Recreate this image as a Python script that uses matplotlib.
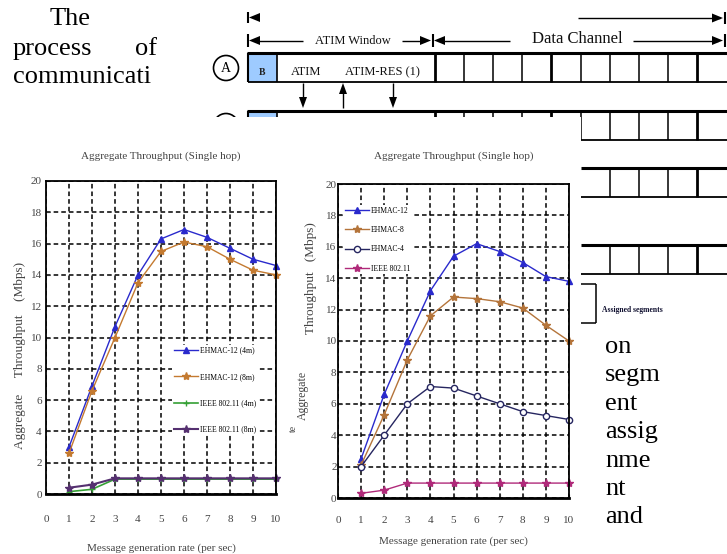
import matplotlib
matplotlib.use("Agg")
import matplotlib.pyplot as plt
from matplotlib.patches import Rectangle, Circle, Polygon

W, H = 727, 554

# chart data
rate = [1, 2, 3, 4, 5, 6, 7, 8, 9, 10]

# left plot: single hop, 4m / 8m
ehmac12_4m = [3.0, 6.9, 10.7, 14.0, 16.3, 16.9, 16.4, 15.7, 15.0, 14.6]
ehmac12_8m = [2.6, 6.6, 10.0, 13.5, 15.5, 16.1, 15.8, 15.0, 14.3, 14.0]
ieee_4m = [0.15, 0.3, 0.95, 0.95, 0.95, 0.95, 0.95, 0.95, 0.95, 0.95]
ieee_8m = [0.4, 0.6, 1.0, 1.0, 1.0, 1.0, 1.0, 1.0, 1.0, 1.0]
left_labels = ["EHMAC-12 (4m)", "EHMAC-12 (8m)", "IEEE 802.11 (4m)", "IEEE 802.11 (8m)"]

# right plot: channel count
ehmac12 = [2.5, 6.6, 10.0, 13.2, 15.4, 16.2, 15.7, 15.0, 14.1, 13.8]
ehmac8 = [2.1, 5.3, 8.8, 11.6, 12.8, 12.7, 12.5, 12.1, 11.0, 10.0]
ehmac4 = [2.0, 4.0, 6.0, 7.1, 7.0, 6.5, 6.0, 5.5, 5.25, 5.0]
ieee = [0.3, 0.5, 0.95, 0.95, 0.95, 0.95, 0.95, 0.95, 0.95, 0.95]
right_labels = ["EHMAC-12", "EHMAC-8", "EHMAC-4", "IEEE 802.11"]

yticks = [0, 2, 4, 6, 8, 10, 12, 14, 16, 18, 20]
xticks = [0, 1, 2, 3, 4, 5, 6, 7, 8, 9, 10]

title = "Aggregate Throughput (Single hop)"
xlab = "Message generation rate (per sec)"

serif = "Liberation Serif"
plt.rcParams['font.family'] = serif

fig = plt.figure(figsize=(W / 100, H / 100), dpi=100)

# background page in pixel coordinates
bg = fig.add_axes([0, 0, 1, 1])
bg.set_xlim(0, W)
bg.set_ylim(H, 0)
bg.axis("off")

# paragraph fragments
txt = dict(fontsize=19, family=serif, va="baseline", color="black")
bg.text(50, 25, "The", **txt)
bg.text(13, 55, "process", **txt)
bg.text(135, 55, "of", **txt)
bg.text(13, 83, "communicati", **txt)
for i, w in enumerate(["on", "segm", "ent", "assig", "nme", "nt", "and"]):
    bg.text(605, 353 + 28.4 * i, w, **txt)

def hline(x0, x1, y, lw=1.0):
    bg.plot([x0, x1], [y, y], color="black", lw=lw, solid_capstyle="butt")

def vline(x, y0, y1, lw=1.0):
    bg.plot([x, x], [y0, y1], color="black", lw=lw, solid_capstyle="butt")

def head(x, y, direction):
    # small filled arrow head, direction +1 right / -1 left
    L, h = 11, 4.5
    bg.add_patch(Polygon([(x, y), (x - direction * L, y - h), (x - direction * L, y + h)],
                         closed=True, color="black", lw=0))

# top timing row
vline(248, 12, 23, 1.5)
head(249, 17.5, -1)
hline(578, 720, 18)
head(723, 18, 1)
vline(725, 12, 24, 1.5)

# ATIM window / data channel row
vline(248, 34, 47, 1.5)
head(249, 40.5, -1)
hline(255, 303, 40.5)
bg.text(353, 41, "ATIM Window", fontsize=9, ha="center", va="center", color="#111")
hline(402, 425, 40.5)
head(431, 40.5, 1)
vline(433, 34, 47, 1.5)
head(434, 40.5, -1)
hline(440, 510, 40.5)
bg.text(577, 39, "Data Channel", fontsize=12, ha="center", va="center", color="#111")
hline(633, 718, 40.5)
head(723, 40.5, 1)
vline(725, 34, 47, 1.5)

cells = [435 + 29.1 * k for k in range(10)]

# row A
bg.add_patch(Rectangle((248, 53), 29, 29, facecolor="#9ecbff", edgecolor="none"))
hline(247, W, 53, 2.2)
hline(248, W, 82, 1.3)
vline(248, 53, 82, 1.5)
vline(277, 53, 82, 1.2)
for k, cx in enumerate(cells):
    vline(cx, 53, 82, 2.0 if k in (0, 4, 9) else 1.1)
bg.text(262, 75, "B", fontsize=7, ha="center", va="baseline", fontweight="bold", color="#222")
bg.text(306, 75, "ATIM", fontsize=9, ha="center", va="baseline", color="#111")
bg.text(382, 75, "ATIM-RES (1)", fontsize=9, ha="center", va="baseline", color="#111")
bg.add_patch(Circle((226, 68), 12.5, fill=False, lw=1.2, color="black"))
bg.text(226, 69, "A", fontsize=10, ha="center", va="center")

# messages between A and B
for ax_, up in [(303, False), (343, True), (393, False)]:
    if up:
        vline(ax_, 108, 92)
        bg.add_patch(Polygon([(ax_, 83), (ax_ - 4, 94), (ax_ + 4, 94)], color="black", lw=0))
    else:
        vline(ax_, 83, 100)
        bg.add_patch(Polygon([(ax_, 108), (ax_ - 4, 97), (ax_ + 4, 97)], color="black", lw=0))

# row B
bg.add_patch(Rectangle((248, 111), 29, 29, facecolor="#9ecbff", edgecolor="none"))
hline(247, W, 111, 2.2)
hline(248, W, 140, 1.3)
vline(248, 111, 140, 1.5)
vline(277, 111, 140, 1.2)
for k, cx in enumerate(cells):
    vline(cx, 111, 140, 2.0 if k in (0, 4, 9) else 1.1)
bg.add_patch(Circle((226, 126), 12.5, fill=False, lw=1.2, color="black"))

# rows peeking out to the right of the pasted charts
for top in (168, 245):
    hline(581, W, top, 2.2)
    hline(581, W, top + 29, 1.3)
    for k, cx in enumerate(cells):
        if cx > 600:
            vline(cx, top, top + 29, 2.0 if k == 9 else 1.1)

# assigned segments bracket
hline(581, 596, 284, 1.1)
hline(581, 596, 323, 1.1)
vline(596, 284, 323, 1.1)
bg.text(602, 310, "Assigned segments", fontsize=5.5, va="center", fontweight="bold", color="#101030")

# white pasted area of the charts
bg.add_patch(Rectangle((0, 117), 581, H - 117, facecolor="white", edgecolor="none", zorder=5))


def make_axes(x0, x1, ytop, ybot):
    return fig.add_axes([x0 / W, 1 - ybot / H, (x1 - x0) / W, (ybot - ytop) / H])


def style(ax, xpad, ypad):
    ax.set_xlim(0, 10)
    ax.set_ylim(0, 20)
    ax.set_xticks(xticks)
    ax.set_yticks(yticks)
    ax.grid(True, color="black", ls=(0, (3, 2)), lw=1.1)
    ax.tick_params(direction="in", length=3, labelsize=8, colors="#333",
                   labelcolor="#444")
    ax.tick_params(axis="x", pad=xpad)
    ax.tick_params(axis="y", pad=ypad)
    for s in ax.spines.values():
        s.set_linewidth(1.3)
    ax.spines["bottom"].set_linewidth(2.0)


# left chart
ax1 = make_axes(46, 276, 181, 494)
ax1.plot(rate, ehmac12_4m, color="#2a2acc", marker="^", ms=5, lw=1, clip_on=False)
ax1.plot(rate, ehmac12_8m, color="#c47a30", marker="*", ms=6, lw=1, clip_on=False)
ax1.plot(rate, ieee_4m, color="#35a035", marker="+", ms=5, lw=1.2, clip_on=False)
ax1.plot(rate, ieee_8m, color="#553070", marker="*", ms=6, lw=1.5, clip_on=False)
style(ax1, 15, 3)
ax1.set_title(title, fontsize=8, color="#444", pad=16)
ax1.set_xlabel(xlab, fontsize=8, color="#444", labelpad=14)
fig.text(20 / W, 1 - 355 / H, "Aggregate     Throughput    (Mbps)", rotation=90,
         fontsize=9.5, color="#444", ha="center", va="center")
ax1.legend(left_labels, loc="upper left", bbox_to_anchor=(172 / W, 1 - 345 / H),
           bbox_transform=fig.transFigure, fontsize=5.5, frameon=True,
           facecolor="white", edgecolor="none", framealpha=1, handlelength=3.2,
           labelspacing=2.4, borderpad=0.2, handletextpad=0.3, borderaxespad=0)

# right chart
ax2 = make_axes(338, 569, 184, 498)
ax2.plot(rate, ehmac12, color="#2a2acc", marker="^", ms=5, lw=1, clip_on=False)
ax2.plot(rate, ehmac8, color="#b4743a", marker="*", ms=6, lw=1, clip_on=False)
ax2.plot(rate, ehmac4, color="#262660", marker="o", ms=4.5, mfc="white", lw=1, clip_on=False)
ax2.plot(rate, ieee, color="#b02a7a", marker="*", ms=6, lw=1, clip_on=False)
style(ax2, 13, 1)
ax2.set_title(title, fontsize=8, color="#444", pad=18)
ax2.set_xlabel(xlab, fontsize=8, color="#444", labelpad=8)
fig.text(311 / W, 1 - 278 / H, "Throughput   (Mbps)", rotation=90,
         fontsize=9.5, color="#444", ha="center", va="center")
fig.text(303 / W, 1 - 395 / H, "Aggregate", rotation=90,
         fontsize=8.5, color="#444", ha="center", va="center")
fig.text(293 / W, 1 - 428 / H, "te", rotation=90,
         fontsize=7, color="#444", ha="center", va="center")
ax2.legend(right_labels, loc="upper left", bbox_to_anchor=(343 / W, 1 - 205 / H),
           bbox_transform=fig.transFigure, fontsize=5.5, frameon=True,
           facecolor="white", edgecolor="none", framealpha=1, handlelength=3.2,
           labelspacing=1.5, borderpad=0.2, handletextpad=0.3, borderaxespad=0)

fig.savefig("out.png", dpi=100)
